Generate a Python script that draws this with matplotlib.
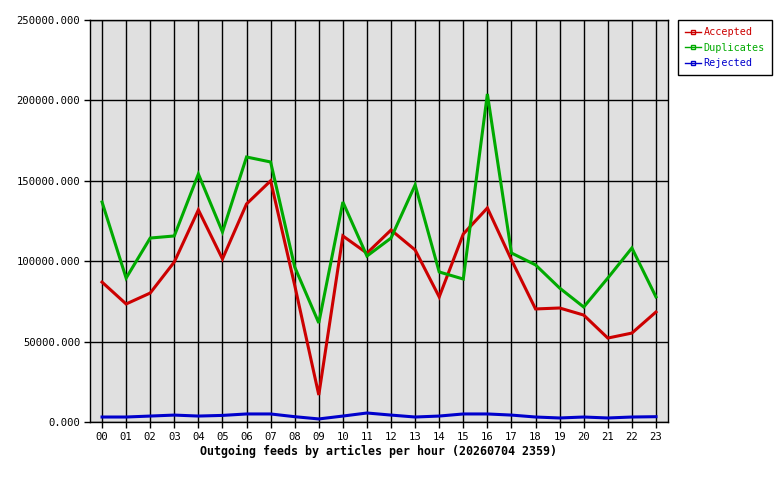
import matplotlib
matplotlib.use("Agg")
import matplotlib.pyplot as plt
from matplotlib.lines import Line2D

hours = ["00", "01", "02", "03", "04", "05", "06", "07", "08", "09", "10", "11",
         "12", "13", "14", "15", "16", "17", "18", "19", "20", "21", "22", "23"]
accepted = [87000, 73400, 80200, 99500, 131900, 101400, 135600, 150000, 85000, 16800,
            115700, 105000, 119400, 107000, 77800, 116900, 133100, 100800, 70300, 70900,
            66500, 52200, 55300, 68400]
duplicates = [136800, 89500, 114400, 115700, 154200, 118200, 164800, 161700, 96400, 61600,
              136800, 103200, 114400, 147400, 93300, 88900, 204000, 105100, 97700, 83300,
              71500, 89500, 108200, 77800]
rejected = [3100, 3100, 3700, 4300, 3700, 4100, 5000, 5000, 3300, 1900,
            3700, 5600, 4300, 3100, 3700, 5000, 5000, 4300, 3100, 2500,
            3100, 2500, 3100, 3300]
yticks = [0, 50000, 100000, 150000, 200000, 250000]
title = "Outgoing feeds by articles per hour (20260704 2359)"

series = [("Accepted", accepted, "#cc0000"),
          ("Duplicates", duplicates, "#00aa00"),
          ("Rejected", rejected, "#0000cc")]

mono = "DejaVu Sans Mono"
fig = plt.figure(figsize=(7.8, 4.8), dpi=100)
fig.patch.set_facecolor("white")
ax = fig.add_axes([90/780, 1-422/480, (668-90)/780, (422-20)/480])
ax.set_facecolor("#e0e0e0")

x = list(range(len(hours)))
for name, vals, col in series:
    ax.plot(x, vals, color=col, lw=2.2, solid_joinstyle="miter", zorder=3)

ax.set_xlim(-0.5, 23.5)
ax.set_ylim(0, 250000)
ax.set_xticks(x)
ax.set_xticklabels(hours, fontfamily=mono, fontsize=7.6)
ax.set_yticks(yticks)
ax.set_yticklabels(["%.3f" % v for v in yticks], fontfamily=mono, fontsize=7.6)
ax.grid(True, color="black", lw=1, zorder=1)
ax.set_axisbelow(True)
ax.tick_params(direction="out", length=4, width=1, color="black", pad=3)
for s in ax.spines.values():
    s.set_color("black")
    s.set_linewidth(1)

ax.set_xlabel(title, fontfamily=mono, fontsize=8.4, fontweight="bold", labelpad=2.5)

handles = [Line2D([0], [0], color=col, lw=1, marker="s", markersize=3,
                  markerfacecolor="none", markeredgecolor=col)
           for name, vals, col in series]
leg = fig.legend(handles, [s[0] for s in series], loc="upper left",
                 bbox_to_anchor=(678/780, 1-20/480), frameon=True, fancybox=False,
                 edgecolor="black", framealpha=1, prop={"family": mono, "size": 7.3},
                 labelcolor="linecolor", handlelength=1.6, handletextpad=0.2,
                 borderpad=0.7, labelspacing=0.55, borderaxespad=0)
leg.get_frame().set_linewidth(1)

fig.savefig("out.png", dpi=100)
